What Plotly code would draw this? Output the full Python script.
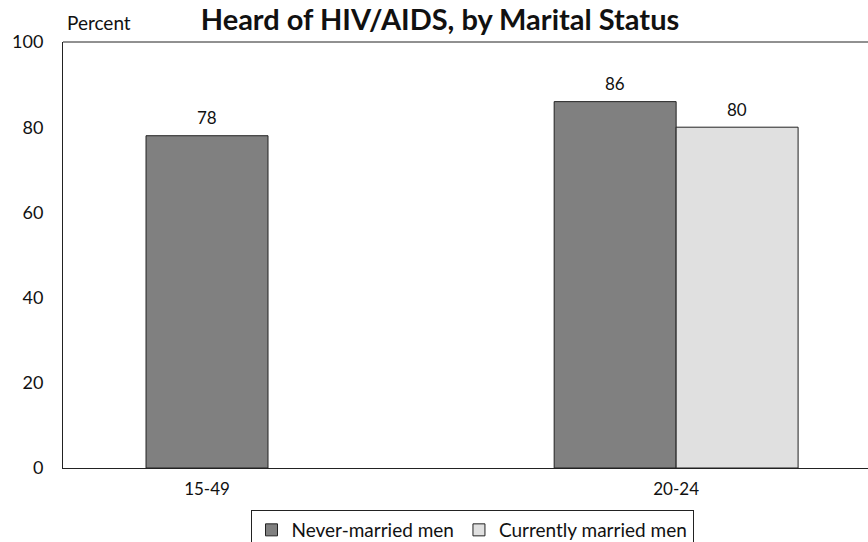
import plotly.graph_objects as go

categories = ["15-49", "20-24"]
never_married = [78, 86]
currently_married = [None, 80]
y_ticks = [0, 20, 40, 60, 80, 100]

FONT = "Lato, 'Open Sans', sans-serif"
bar_w = 0.26
cat_pos = list(range(len(categories)))
# offsets within each group: first group only has one bar, centered
nm_x = [p if cm is None else p - bar_w / 2 for p, cm in zip(cat_pos, currently_married)]
cm_x = [p + bar_w / 2 for p in cat_pos]

fig = go.Figure()
fig.add_trace(go.Bar(
    x=nm_x, y=never_married, width=bar_w, name="Never-married men",
    marker=dict(color="#808080", line=dict(color="#222", width=1)),
))
fig.add_trace(go.Bar(
    x=cm_x, y=currently_married, width=bar_w, name="Currently married men",
    marker=dict(color="#e0e0e0", line=dict(color="#222", width=1)),
))

annotations = [dict(text="Percent", xref="paper", yref="paper", x=2 / 805, y=1,
                    xanchor="left", yanchor="bottom", yshift=6, showarrow=False,
                    font=dict(size=19, color="#111"))]
for xs, vals in ((nm_x, never_married), (cm_x, currently_married)):
    for xv, v in zip(xs, vals):
        if v is None:
            continue
        annotations.append(dict(x=xv, y=v, xref="x", yref="y", text=str(v),
                                showarrow=False, yanchor="middle", yshift=18,
                                font=dict(size=17, color="#111")))

fig.update_layout(
    width=868, height=542,
    margin=dict(l=63, r=0, t=42, b=74, autoexpand=False),
    paper_bgcolor="white", plot_bgcolor="white",
    barmode="overlay",
    font=dict(family=FONT, color="#111"),
    title=dict(text="<b>Heard of HIV/AIDS, by Marital Status</b>",
               x=440 / 868, xanchor="center", xref="container",
               y=1 - 20 / 542, yanchor="middle", yref="container",
               font=dict(size=29, color="#111", family=FONT)),
    xaxis=dict(range=[-0.307, 1.409], tickvals=cat_pos, ticktext=categories,
               showgrid=False, zeroline=False, showline=True, linecolor="#222",
               linewidth=1, ticks="", ticklabelstandoff=6,
               tickfont=dict(size=17, color="#111")),
    yaxis=dict(range=[0, 100], tickvals=y_ticks, showgrid=False, zeroline=False,
               showline=True, linecolor="#222", linewidth=1, ticks="",
               ticklabelstandoff=15, tickfont=dict(size=18, color="#111")),
    legend=dict(orientation="h", x=472 / 868, xref="container", xanchor="center",
                y=-0.0986, yanchor="top", bordercolor="#222", borderwidth=1,
                font=dict(size=19, color="#111"),
                tracegroupgap=0, bgcolor="white"),
    showlegend=True,
    shapes=[dict(type="line", xref="paper", yref="paper", x0=0, x1=1, y0=1, y1=1,
                 line=dict(color="#222", width=1))],
    annotations=annotations,
)

fig.write_html("out.html", config={"displayModeBar": False},
               post_script="document.body.style.margin='0';")
